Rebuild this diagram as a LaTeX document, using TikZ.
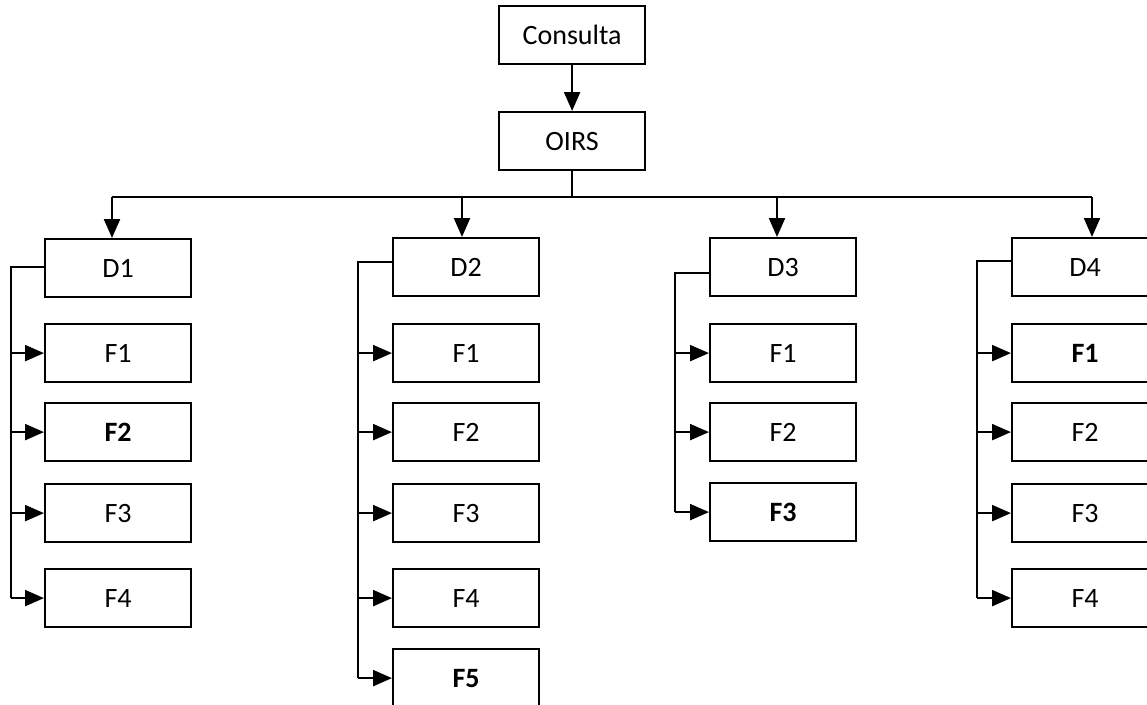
\documentclass[tikz,border=0pt]{standalone}
\usepackage{fontspec}
\setmainfont{Carlito}
\usetikzlibrary{arrows.meta,calc}
\begin{document}
\begin{tikzpicture}[x=1pt,y=-1pt,
  box/.style={draw, line width=2.2pt, minimum width=146pt, minimum height=58pt,
    inner sep=0pt, anchor=north west, font=\fontsize{28}{32}\selectfont},
  conn/.style={line width=2.2pt},
  arr/.style={conn, -{Triangle[length=19pt,width=16pt]}}]
\useasboundingbox (0,0) rectangle (1147,704);
\clip (0,0) rectangle (1147,704);

% top
\node[box] (c) at (498,5) {Consulta};
\node[box] (o) at (498,111) {OIRS};
\draw[arr] (c) -- (o);

% column D1
\node[box] (d1) at (44,238) {D1};
\node[box] (d1f1) at (44,323) {F1};
\node[box] (d1f2) at (44,402) {\bfseries F2};
\node[box] (d1f3) at (44,483) {F3};
\node[box] (d1f4) at (44,568) {F4};
% column D2
\node[box] (d2) at (392,237) {D2};
\node[box] (d2f1) at (392,323) {F1};
\node[box] (d2f2) at (392,402) {F2};
\node[box] (d2f3) at (392,483) {F3};
\node[box] (d2f4) at (392,568) {F4};
\node[box] (d2f5) at (392,648) {\bfseries F5};
% column D3
\node[box] (d3) at (709,237) {D3};
\node[box] (d3f1) at (709,323) {F1};
\node[box] (d3f2) at (709,402) {F2};
\node[box] (d3f3) at (709,482) {\bfseries F3};
% column D4
\node[box] (d4) at (1011,237) {D4};
\node[box] (d4f1) at (1011,323) {\bfseries F1};
\node[box] (d4f2) at (1011,402) {F2};
\node[box] (d4f3) at (1011,483) {F3};
\node[box] (d4f4) at (1011,568) {F4};

% bus
\coordinate (b1) at (112,197);
\coordinate (b2) at (462,197);
\coordinate (b3) at (777,197);
\coordinate (b4) at (1092,197);
\draw[conn] (o.south) -- (o.south |- b1);
\draw[conn] (b1) -- (b4);
\draw[arr] (b1) -- (b1 |- d1.north);
\draw[arr] (b2) -- (b2 |- d2.north);
\draw[arr] (b3) -- (b3 |- d3.north);
\draw[arr] (b4) -- (b4 |- d4.north);

% brackets
\coordinate (k1) at (11,0);
\coordinate (k2) at (358,0);
\coordinate (k3) at (675,0);
\coordinate (k4) at (977,0);

\draw[conn] ($(d1.west)+(0,-1)$) -- ($(k1 |- d1.west)+(0,-1)$) -- (k1 |- d1f4.west);
\foreach \f in {d1f1,d1f2,d1f3,d1f4} \draw[arr] (k1 |- \f.west) -- (\f.west);

\draw[conn] ($(d2.west)+(0,-5)$) -- ($(k2 |- d2.west)+(0,-5)$) -- (k2 |- d2f5.west);
\foreach \f in {d2f1,d2f2,d2f3,d2f4,d2f5} \draw[arr] (k2 |- \f.west) -- (\f.west);

\draw[conn] ($(d3.west)+(0,6)$) -- ($(k3 |- d3.west)+(0,6)$) -- (k3 |- d3f3.west);
\foreach \f in {d3f1,d3f2,d3f3} \draw[arr] (k3 |- \f.west) -- (\f.west);

\draw[conn] ($(d4.west)+(0,-6)$) -- ($(k4 |- d4.west)+(0,-6)$) -- (k4 |- d4f4.west);
\foreach \f in {d4f1,d4f2,d4f3,d4f4} \draw[arr] (k4 |- \f.west) -- (\f.west);
\end{tikzpicture}
\end{document}
